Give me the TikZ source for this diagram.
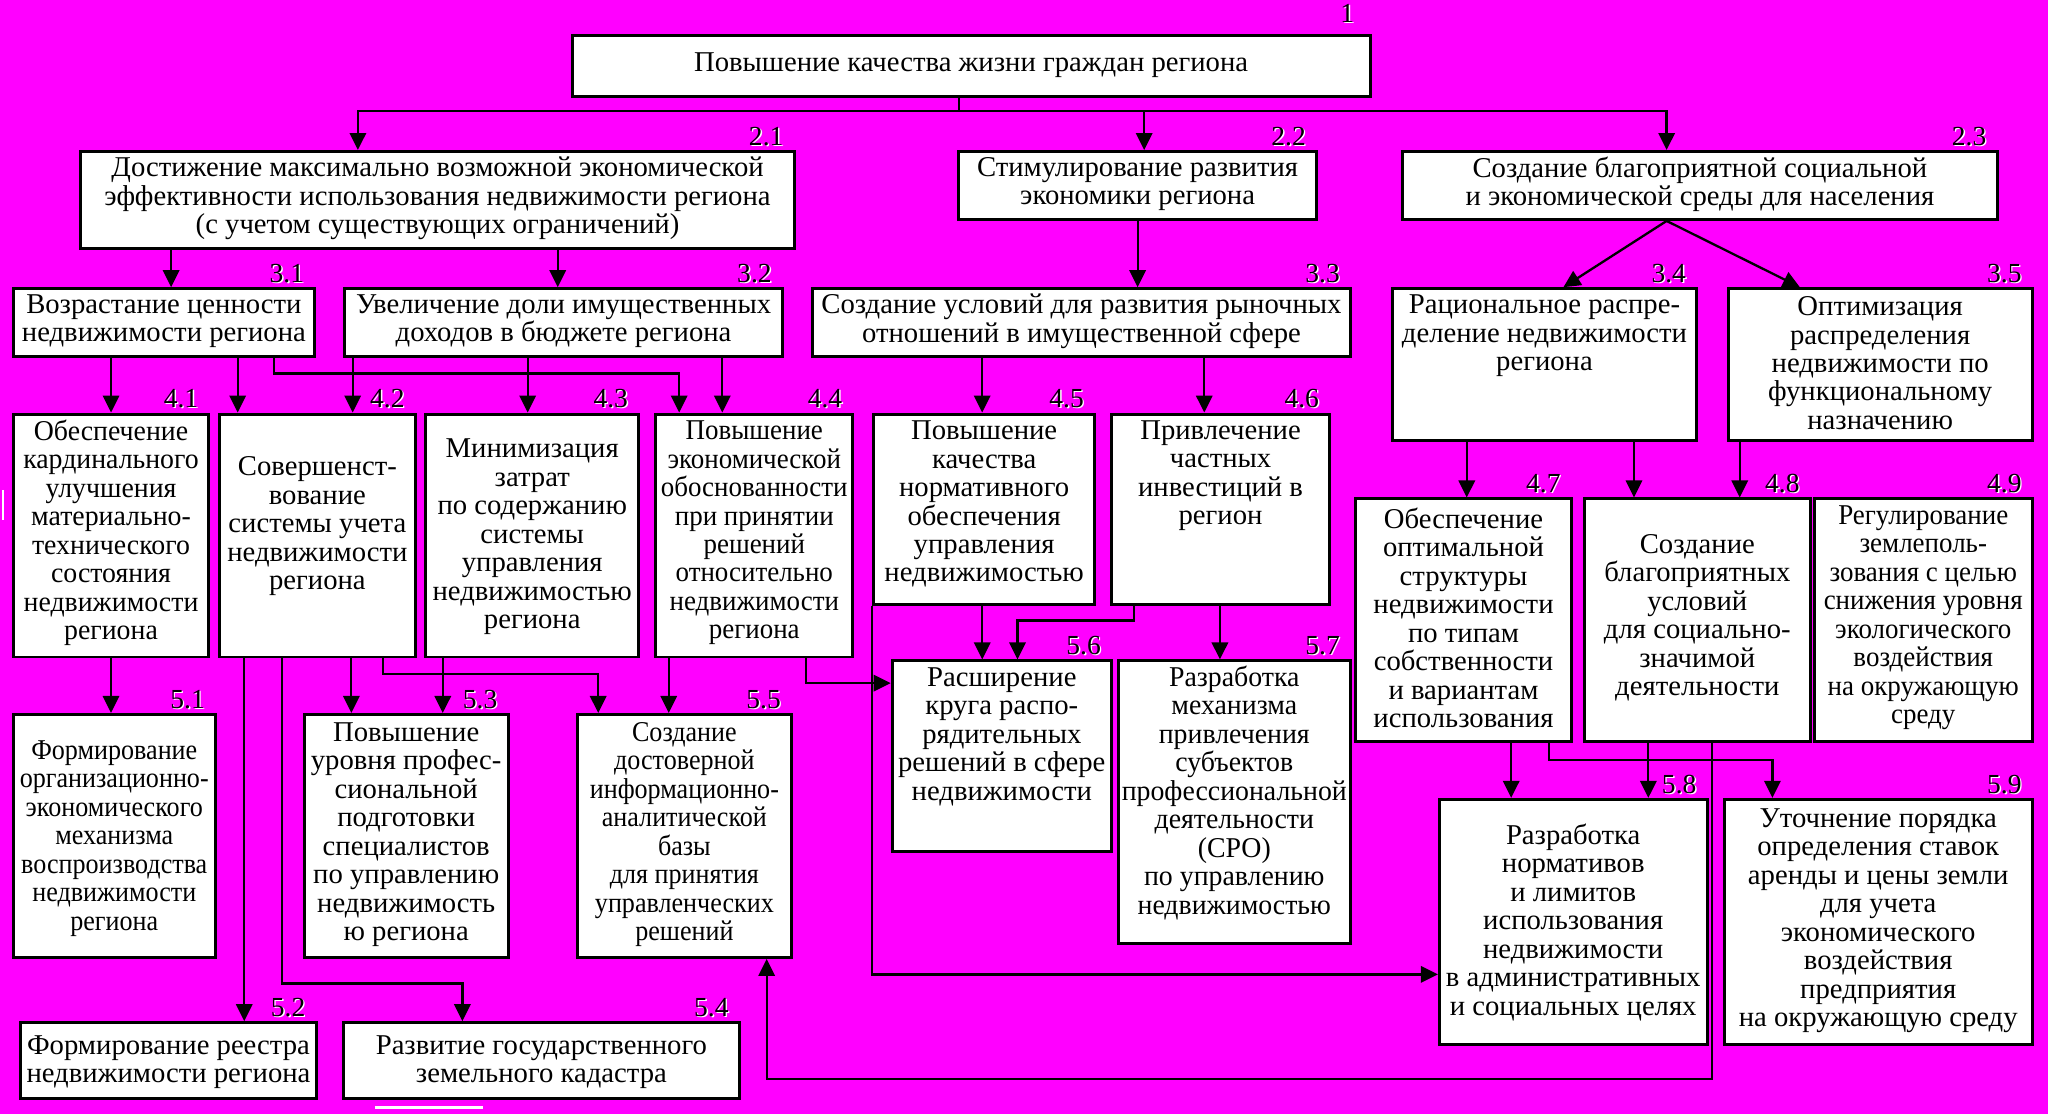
\documentclass[tikz,border=0pt]{standalone}
\usepackage{fontspec}
\setmainfont{Liberation Serif}
\newfontfamily\condA[FakeStretch=0.91]{Liberation Serif}
\newfontfamily\condB[FakeStretch=0.94]{Liberation Serif}
\newfontfamily\condC[FakeStretch=0.97]{Liberation Serif}
\usetikzlibrary{arrows.meta,calc}
\definecolor{bgmag}{RGB}{255,0,255}
\newcommand{\bfs}{\fontsize{12.5pt}{12.4pt}\selectfont}
\tikzset{
  blkbox/.style={draw, fill=white, line width=1.3pt, inner sep=0pt},
  blktxt/.style={align=center, inner sep=0pt, font=\bfs},
  tightA/.style={font=\condA\bfs},
  tightB/.style={font=\condB\bfs},
  tightC/.style={font=\condC\bfs},
  numtxt/.style={anchor=south east, inner sep=0pt, xshift=-0.18cm, yshift=0.06cm, font=\fontsize{12pt}{12pt}\selectfont},
  conn/.style={line width=1pt},
  arr/.style={conn, -{Triangle[length=2.6mm,width=2.5mm]}},
}
% box: [text style], name, left, top, right, bottom, text y, text
\newcommand{\blk}[8][]{%
  \node[blkbox, minimum width={(#5-#3)*0.02cm}, minimum height={(#6-#4)*0.02cm}]
    (#2) at ({(#3+#5)/2},{(#4+#6)/2}) {};
  \node[blktxt,#1] (#2t) at ({(#3+#5)/2},#7) {#8};
}
% number over the top right corner
\newcommand{\numtag}[2]{%
  \node[numtxt, white] (#1w) at ([xshift=0.6pt,yshift=-0.4pt]#1.north east) {#2};
  \node[numtxt] (#1n) at (#1.north east) {#2};
}

\begin{document}
\begin{tikzpicture}[x=0.02cm, y=-0.02cm]
    \fill[bgmag] (0,0) rectangle (1568,853);
    \useasboundingbox (0,0) rectangle (1568,853);

    % level 1 and 2
    \blk{b1}{438}{27}{1049}{74}{50}{Повышение качества жизни граждан региона}
    \blk{b21}{62}{116}{608}{190}{152}{Достижение максимально возможной экономической\\эффективности использования недвижимости региона\\(с учетом существующих ограничений)}
    \blk{b22}{734}{116}{1008}{168}{141}{Стимулирование развития\\экономики региона}
    \blk{b23}{1074}{116}{1529}{168}{141}{Создание благоприятной социальной\\и экономической среды для населения}

    % level 3
    \blk{b31}{10}{221}{241}{273}{246}{Возрастание ценности\\недвижимости региона}
    \blk{b32}{264}{221}{599}{273}{246}{Увеличение доли имущественных\\доходов в бюджете региона}
    \blk{b33}{622}{221}{1034}{273}{246}{Создание условий для развития рыночных\\отношений в имущественной сфере}
    \blk{b34}{1066}{221}{1299}{337}{257}{Рациональное распре-\\деление недвижимости\\региона}
    \blk{b35}{1323}{221}{1556}{337}{278}{Оптимизация\\распределения\\недвижимости по\\функциональному\\назначению}

    % level 4
    \blk[tightC]{b41}{10}{317}{160}{503}{408}{Обеспечение\\кардинального\\улучшения\\материально-\\технического\\состояния\\недвижимости\\региона}
    \blk{b42}{168}{317}{318}{503}{403}{Совершенст-\\вование\\системы учета\\недвижимости\\региона}
    \blk{b43}{326}{317}{489}{503}{411}{Минимизация\\затрат\\по содержанию\\системы\\управления\\недвижимостью\\региона}
    \blk[tightB]{b44}{502}{317}{653}{503}{408}{Повышение\\экономической\\обоснованности\\при принятии\\решений\\относительно\\недвижимости\\региона}
    \blk{b45}{669}{317}{838}{463}{386}{Повышение\\качества\\нормативного\\обеспечения\\управления\\недвижимостью}
    \blk{b46}{851}{317}{1018}{463}{364}{Привлечение\\частных\\инвестиций в\\регион}
    \blk{b47}{1038}{382}{1203}{568}{473}{Обеспечение\\оптимальной\\структуры\\недвижимости\\по типам\\собственности\\и вариантам\\использования}
    \blk{b48}{1213}{382}{1386}{568}{473}{Создание\\благоприятных\\условий\\для социально-\\значимой\\деятельности}
    \blk[tightB]{b49}{1389}{382}{1556}{568}{473}{Регулирование\\землеполь-\\зования с целью\\снижения уровня\\экологического\\воздействия\\на окружающую\\среду}

    % level 5
    \blk[tightA]{b51}{10}{547}{165}{733}{642}{Формирование\\организационно-\\экономического\\механизма\\воспроизводства\\недвижимости\\региона}
    \blk{b52}{16}{783}{242}{841}{813}{Формирование реестра\\недвижимости региона}
    \blk{b53}{233}{547}{389}{733}{639}{Повышение\\уровня профес-\\сиональной\\подготовки\\специалистов\\по управлению\\недвижимость\\ю региона}
    \blk{b54}{263}{783}{566}{841}{813}{Развитие государственного\\земельного кадастра}
    \blk[tightA]{b55}{442}{547}{606}{733}{639}{Создание\\достоверной\\информационно-\\аналитической\\базы\\для принятия\\управленческих\\решений}
    \blk{b56}{683}{506}{851}{652}{564}{Расширение\\круга распо-\\рядительных\\решений в сфере\\недвижимости}
    \blk[tightC]{b57}{856}{506}{1034}{722}{607}{Разработка\\механизма\\привлечения\\субъектов\\профессиональной\\деятельности\\(СРО)\\по управлению\\недвижимостью}
    \blk{b58}{1102}{612}{1307}{800}{706}{Разработка\\нормативов\\и лимитов\\использования\\недвижимости\\в административных\\и социальных целях}
    \blk{b59}{1320}{612}{1556}{800}{705}{Уточнение порядка\\определения ставок\\аренды и цены земли\\для учета\\экономического\\воздействия\\предприятия\\на окружающую среду}

    % numbers
    \node[numtxt, white, xshift=-0.08cm, yshift=0.1cm] (b1w) at ([xshift=0.6pt,yshift=-0.4pt]b1.north east) {1};
    \node[numtxt, xshift=-0.08cm, yshift=0.1cm] (b1n) at (b1.north east) {1};
    \numtag{b21}{2.1} \numtag{b22}{2.2} \numtag{b23}{2.3}
    \numtag{b31}{3.1} \numtag{b32}{3.2} \numtag{b33}{3.3}
    \numtag{b34}{3.4} \numtag{b35}{3.5}
    \numtag{b41}{4.1} \numtag{b42}{4.2} \numtag{b43}{4.3}
    \numtag{b44}{4.4} \numtag{b45}{4.5} \numtag{b46}{4.6}
    \numtag{b47}{4.7} \numtag{b48}{4.8} \numtag{b49}{4.9}
    \numtag{b51}{5.1} \numtag{b52}{5.2} \numtag{b53}{5.3}
    \numtag{b54}{5.4} \numtag{b55}{5.5} \numtag{b56}{5.6}
    \numtag{b57}{5.7} \numtag{b58}{5.8} \numtag{b59}{5.9}

    % 1 -> 2.x
    \coordinate (bus1) at (734,85);
    \draw[conn] (b1.south -| bus1) -- (bus1);
    \draw[arr] (bus1) -| (b21.north -| 274,0);
    \draw[arr] (bus1) -| (b22.north -| 876,0);
    \draw[arr] (bus1) -| (b23.north -| 1276,0);

    % 2.x -> 3.x
    \draw[arr] (b21.south -| 131,0) -- (b31.north -| 131,0);
    \draw[arr] (b21.south -| 427,0) -- (b32.north -| 427,0);
    \draw[arr] (b22.south -| 871,0) -- (b33.north -| 871,0);
    \draw[arr] (b23.south -| 1276,0) -- (b34.north -| 1197,0);
    \draw[arr] (b23.south -| 1276,0) -- (b35.north -| 1378,0);

    % 3.x -> 4.x
    \draw[arr] (b31.south -| 85,0) -- (b41.north -| 85,0);
    \draw[arr] (b31.south -| 182,0) -- (b42.north -| 182,0);
    \draw[arr] (b31.south -| 210,0) -- (210,286) -| (b44.north -| 520,0);
    \draw[arr] (b32.south -| 270,0) -- (b42.north -| 270,0);
    \draw[arr] (b32.south -| 404,0) -- (b43.north -| 404,0);
    \draw[arr] (b32.south -| 553,0) -- (b44.north -| 553,0);
    \draw[arr] (b33.south -| 752,0) -- (b45.north -| 752,0);
    \draw[arr] (b33.south -| 922,0) -- (b46.north -| 922,0);
    \draw[arr] (b34.south -| 1123,0) -- (b47.north -| 1123,0);
    \draw[arr] (b34.south -| 1251,0) -- (b48.north -| 1251,0);
    \draw[arr] (b35.south -| 1332,0) -- (b48.north -| 1332,0);

    % 4.x -> 5.x
    \draw[arr] (b41.south -| 85,0) -- (b51.north -| 85,0);
    \draw[arr] (b42.south -| 187,0) -- (b52.north -| 187,0);
    \draw[arr] (b42.south -| 216,0) -- (216,753) -| (b54.north -| 354,0);
    \draw[arr] (b42.south -| 269,0) -- (b53.north -| 269,0);
    \draw[arr] (b42.south -| 293,0) -- (293,516) -| (b55.north -| 458,0);
    \draw[arr] (b43.south -| 339,0) -- (b53.north -| 339,0);
    \draw[arr] (b44.south -| 512,0) -- (b55.north -| 512,0);
    \draw[arr] (b44.south -| 617,0) -- (617,523) -- (b56.west |- 0,523);
    \draw[arr] (b45.south -| 752,0) -- (b56.north -| 752,0);
    \draw[arr] (b45.south west) |- (b58.west |- 0,746);
    \draw[arr] (b46.south -| 868,0) -- (868,475) -| (b56.north -| 779,0);
    \draw[arr] (b46.south -| 934,0) -- (b57.north -| 934,0);
    \draw[arr] (b47.south -| 1157,0) -- (b58.north -| 1157,0);
    \draw[arr] (b47.south -| 1186,0) -- (1186,582) -| (b59.north -| 1357,0);
    \draw[arr] (b48.south -| 1262,0) -- (b58.north -| 1262,0);
    \draw[arr] (b48.south -| 1311,0) -- (1311,826) -| (b55.south -| 587,0);

    % stray white strokes
    \draw[white, line width=1pt] (2.5,375) -- (2.5,398);
    \draw[white, line width=1.2pt] (287,848) -- (370,848);
  \end{tikzpicture}
\end{document}
